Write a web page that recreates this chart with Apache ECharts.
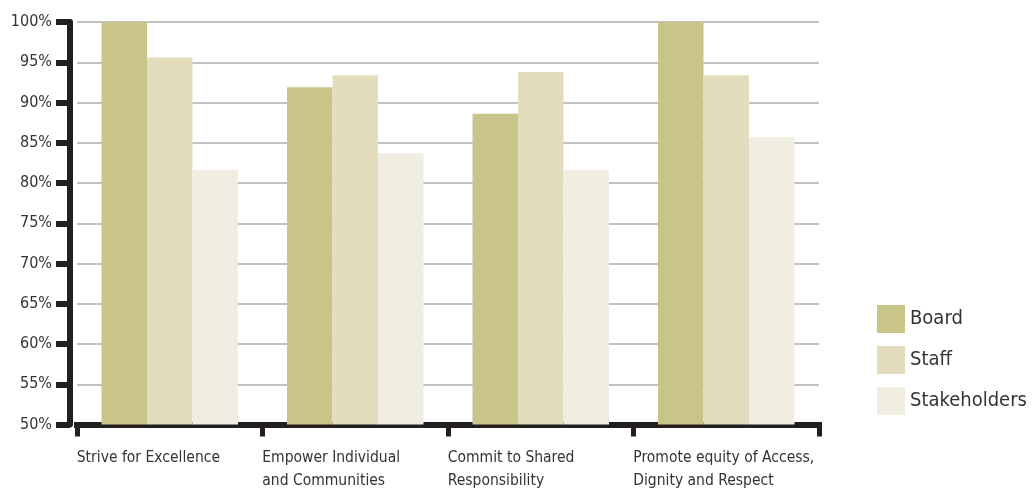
<!DOCTYPE html>
<html lang="en">
<head>
    <meta charset="UTF-8">
    <title>Values survey</title>
    <script src="https://cdn.jsdelivr.net/npm/echarts@6/dist/echarts.min.js"></script>
    <style>
        html, body { margin: 0; padding: 0; background: #fff; }
    </style>
</head>
<body>
    <div id="main" style="width:1032px; height: 489px;"></div>

    <script>
        // values (percent)
        var categories = [
            'Strive for Excellence',
            'Empower Individual\nand Communities',
            'Commit to Shared\nResponsibility',
            'Promote equity of Access,\nDignity and Respect'
        ];
        var board = [100, 91.9, 88.6, 100];
        var staff = [95.6, 93.4, 93.8, 93.4];
        var stakeholders = [81.6, 83.7, 81.6, 85.7];

        var font = "'DejaVu Sans Condensed', 'Liberation Sans Narrow', sans-serif";
        var ink = '#231f20';

        var option = {
            animation: false,
            grid: {
                left: 77,
                top: 22,
                width: 742,
                height: 403
            },
            legend: {
                orient: 'vertical',
                left: 877,
                top: 305,
                padding: 0,
                itemWidth: 28,
                itemHeight: 28,
                itemGap: 13,
                icon: 'rect',
                textStyle: {
                    fontFamily: font,
                    fontSize: 20,
                    color: '#333'
                },
                data: ['Board', 'Staff', 'Stakeholders']
            },
            xAxis: {
                type: 'category',
                data: categories,
                axisLine: { show: true, lineStyle: { color: ink, width: 6, cap: 'square' } },
                axisTick: { show: true, alignWithLabel: false, interval: 0, length: 12, lineStyle: { color: ink, width: 5 } },
                axisLabel: {
                    margin: 22,
                    interval: 0,
                    formatter: function (v) {
                        return v.split('\n').map(function (s) { return '{a|' + s + '}'; }).join('\n');
                    },
                    rich: {
                        a: {
                            width: 186,
                            align: 'left',
                            fontFamily: font,
                            fontSize: 15.5,
                            lineHeight: 23,
                            color: '#333'
                        }
                    }
                }
            },
            yAxis: {
                type: 'value',
                min: 50,
                max: 100,
                interval: 5,
                offset: 7,
                axisLine: { show: true, lineStyle: { color: ink, width: 6 } },
                axisTick: { show: true, length: 14, lineStyle: { color: ink, width: 6 } },
                axisLabel: {
                    margin: 18,
                    formatter: '{value}%',
                    fontFamily: font,
                    fontSize: 16,
                    color: '#333'
                },
                splitLine: { lineStyle: { color: '#aeaeae', width: 1.5 } }
            },
            series: [
                {
                    name: 'Board',
                    type: 'bar',
                    data: board,
                    barGap: '0%',
                    barCategoryGap: '26.4%',
                    itemStyle: { color: '#c9c48a' }
                },
                {
                    name: 'Staff',
                    type: 'bar',
                    data: staff,
                    itemStyle: { color: '#e2ddbd' }
                },
                {
                    name: 'Stakeholders',
                    type: 'bar',
                    data: stakeholders,
                    itemStyle: { color: '#f0eee0' }
                }
            ]
        };
        echarts.init(document.getElementById('main')).setOption(option);
    </script>
</body>
</html>
